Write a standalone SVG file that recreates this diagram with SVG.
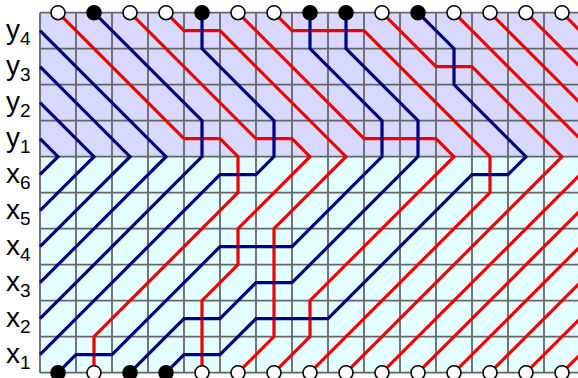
<svg xmlns="http://www.w3.org/2000/svg" width="578" height="378" viewBox="0 0 578 378">
<style>
.grid{stroke:#666;stroke-width:1.8;fill:none}
.b{stroke:#000080;stroke-width:3.2;fill:none;stroke-linejoin:miter}
.r{stroke:#ee0000;stroke-width:3.2;fill:none;stroke-linejoin:miter}
.wc{fill:#fff;stroke:#000;stroke-width:1.5}
.bc{fill:#000;stroke:#000;stroke-width:1.5}
.lbl{font-family:"Liberation Sans",Arial,sans-serif;font-size:28px;fill:#000}
.sub{font-size:19px}
</style>
<g id="background">
<rect x="40" y="12.7" width="540" height="144" fill="#d9d9ff"/>
<rect x="40" y="156.7" width="540" height="216" fill="#e3ffff"/>
</g>
<g id="grid" class="grid">
<path d="M40,12.7V372.7M76,12.7V372.7M112,12.7V372.7M148,12.7V372.7M184,12.7V372.7M220,12.7V372.7M256,12.7V372.7M292,12.7V372.7M328,12.7V372.7M364,12.7V372.7M400,12.7V372.7M436,12.7V372.7M472,12.7V372.7M508,12.7V372.7M544,12.7V372.7"/>
<path d="M40,12.7H580M40,48.7H580M40,84.7H580M40,120.7H580M40,156.7H580M40,192.7H580M40,228.7H580M40,264.7H580M40,300.7H580M40,336.7H580M40,372.7H580"/>
</g>
<g id="labels" class="lbl">
<text id="lbl-y4" x="6" y="38.7">y<tspan class="sub" dy="6">4</tspan></text>
<text id="lbl-y3" x="6" y="74.7">y<tspan class="sub" dy="6">3</tspan></text>
<text id="lbl-y2" x="6" y="110.7">y<tspan class="sub" dy="6">2</tspan></text>
<text id="lbl-y1" x="6" y="146.7">y<tspan class="sub" dy="6">1</tspan></text>
<text id="lbl-x6" x="6" y="182.7">x<tspan class="sub" dy="6">6</tspan></text>
<text id="lbl-x5" x="6" y="218.7">x<tspan class="sub" dy="6">5</tspan></text>
<text id="lbl-x4" x="6" y="254.7">x<tspan class="sub" dy="6">4</tspan></text>
<text id="lbl-x3" x="6" y="290.7">x<tspan class="sub" dy="6">3</tspan></text>
<text id="lbl-x2" x="6" y="326.7">x<tspan class="sub" dy="6">2</tspan></text>
<text id="lbl-x1" x="6" y="362.7">x<tspan class="sub" dy="6">1</tspan></text>
</g>
<g id="connectors">
<g id="red-paths" class="r">
<path d="M58,12.7L184,138.7L220,138.7L238,156.7L238,192.7L94,336.7L94,372.7"/>
<path d="M130,12.7L256,138.7L292,138.7L310,156.7L238,228.7L238,264.7L202,300.7L202,372.7"/>
<path d="M166,12.7L184,30.7L220,30.7L346,156.7L274,228.7L274,336.7L238,372.7"/>
<path d="M238,12.7L364,138.7L436,138.7L454,156.7L310,300.7L310,336.7L274,372.7"/>
<path d="M274,12.7L292,30.7L364,30.7L490,156.7L490,192.7L310,372.7"/>
<path d="M382,12.7L436,66.7L472,66.7L562,156.7L346,372.7"/>
<path d="M454,12.7L598,156.7"/>
<path d="M490,12.7L598,120.7"/>
<path d="M526,12.7L598,84.7"/>
<path d="M562,12.7L598,48.7"/>
<path d="M382,372.7L580,174.7"/>
<path d="M418,372.7L580,210.7"/>
<path d="M454,372.7L580,246.7"/>
<path d="M490,372.7L580,282.7"/>
<path d="M526,372.7L580,318.7"/>
<path d="M562,372.7L580,354.7"/>
</g>
<g id="blue-paths" class="b">
<path d="M40,30.7L166,156.7L40,282.7"/>
<path d="M40,66.7L130,156.7L40,246.7"/>
<path d="M40,102.7L94,156.7L40,210.7"/>
<path d="M40,138.7L58,156.7L40,174.7"/>
<path d="M94,12.7L202,120.7L202,156.7L40,318.7"/>
<path d="M202,12.7L202,48.7L274,120.7L274,156.7L256,174.7L220,174.7L40,354.7"/>
<path d="M310,12.7L310,48.7L382,120.7L382,156.7L292,246.7L220,246.7L112,354.7L76,354.7L58,372.7"/>
<path d="M346,12.7L346,48.7L418,120.7L418,156.7L292,282.7L256,282.7L220,318.7L184,318.7L130,372.7"/>
<path d="M418,12.7L454,48.7L454,84.7L526,156.7L508,174.7L472,174.7L328,318.7L256,318.7L220,354.7L184,354.7L166,372.7"/>
</g>
</g>
<g id="top-nodes">
<circle id="t0" class="wc" cx="58" cy="12.7" r="7"/>
<circle id="t1" class="bc" cx="94" cy="12.7" r="7"/>
<circle id="t2" class="wc" cx="130" cy="12.7" r="7"/>
<circle id="t3" class="wc" cx="166" cy="12.7" r="7"/>
<circle id="t4" class="bc" cx="202" cy="12.7" r="7"/>
<circle id="t5" class="wc" cx="238" cy="12.7" r="7"/>
<circle id="t6" class="wc" cx="274" cy="12.7" r="7"/>
<circle id="t7" class="bc" cx="310" cy="12.7" r="7"/>
<circle id="t8" class="bc" cx="346" cy="12.7" r="7"/>
<circle id="t9" class="wc" cx="382" cy="12.7" r="7"/>
<circle id="t10" class="bc" cx="418" cy="12.7" r="7"/>
<circle id="t11" class="wc" cx="454" cy="12.7" r="7"/>
<circle id="t12" class="wc" cx="490" cy="12.7" r="7"/>
<circle id="t13" class="wc" cx="526" cy="12.7" r="7"/>
<circle id="t14" class="wc" cx="562" cy="12.7" r="7"/>
</g>
<g id="bottom-nodes">
<circle id="b0" class="bc" cx="58" cy="372.7" r="7"/>
<circle id="b1" class="wc" cx="94" cy="372.7" r="7"/>
<circle id="b2" class="bc" cx="130" cy="372.7" r="7"/>
<circle id="b3" class="bc" cx="166" cy="372.7" r="7"/>
<circle id="b4" class="wc" cx="202" cy="372.7" r="7"/>
<circle id="b5" class="wc" cx="238" cy="372.7" r="7"/>
<circle id="b6" class="wc" cx="274" cy="372.7" r="7"/>
<circle id="b7" class="wc" cx="310" cy="372.7" r="7"/>
<circle id="b8" class="wc" cx="346" cy="372.7" r="7"/>
<circle id="b9" class="wc" cx="382" cy="372.7" r="7"/>
<circle id="b10" class="wc" cx="418" cy="372.7" r="7"/>
<circle id="b11" class="wc" cx="454" cy="372.7" r="7"/>
<circle id="b12" class="wc" cx="490" cy="372.7" r="7"/>
<circle id="b13" class="wc" cx="526" cy="372.7" r="7"/>
<circle id="b14" class="wc" cx="562" cy="372.7" r="7"/>
</g>
</svg>
